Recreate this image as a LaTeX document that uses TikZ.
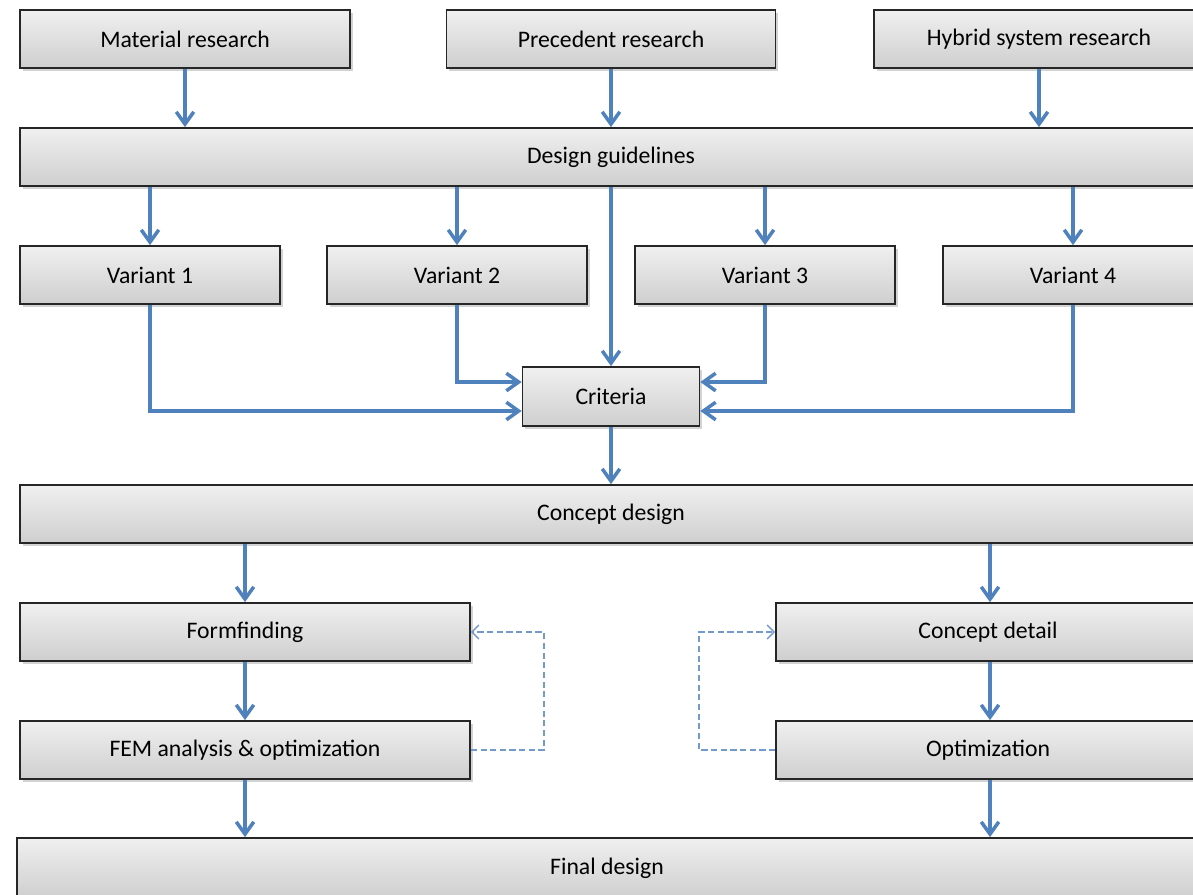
\documentclass[tikz,border=0pt]{standalone}
\usepackage{fontspec}
\setmainfont{Carlito}
\usetikzlibrary{shapes,arrows.meta,positioning,shadows}

\definecolor{flowblue}{HTML}{4F81BD}

\begin{document}
\begin{tikzpicture}[x=0.02cm, y=-0.02cm, >={Straight Barb[length=7pt, width=10pt]}, font=\fontsize{13.5}{16}\selectfont,
    box/.style={rectangle, draw=black!85, line width=1pt, top color=gray!12, bottom color=gray!38,
        drop shadow={opacity=0.35, shadow xshift=1.5pt, shadow yshift=-1.5pt},
        minimum height=1.16cm, inner sep=0pt, align=center},
    flow/.style={->, draw=flowblue, line width=2pt},
    loop/.style={->, draw=flowblue!80, dash pattern=on 3.5pt off 2pt, line width=0.8pt, >={Straight Barb[length=4pt, width=8pt]}}]
        \useasboundingbox (0,0) rectangle (1193,894);
        \clip (0,0) rectangle (1193,894);

        % Nodes
        \node[box, minimum width=6.6cm] (material) at (185,39) {Material research};
        \node[box, minimum width=6.58cm] (precedent) at (611,39) {Precedent research};
        \node[box, minimum width=6.6cm] (hybrid) at (1039,39) {Hybrid system research};

        \node[box, minimum width=23.64cm] (guidelines) at (611,157) {Design guidelines};

        \node[box, minimum width=5.2cm] (var1) at (150,275) {Variant 1};
        \node[box, minimum width=5.2cm] (var2) at (457,275) {Variant 2};
        \node[box, minimum width=5.2cm] (var3) at (765,275) {Variant 3};
        \node[box, minimum width=5.2cm] (var4) at (1073,275) {Variant 4};

        \node[box, minimum width=3.54cm, minimum height=1.18cm] (criteria) at (611,396.5) {Criteria};

        \node[box, minimum width=23.64cm] (concept) at (611,514) {Concept design};

        \node[box, minimum width=9cm] (formfinding) at (245,632) {Formfinding};
        \node[box, minimum width=9cm] (fem) at (245,750) {FEM analysis \& optimization};
        \node[box, minimum width=8.48cm] (detail) at (988,632) {Concept detail};
        \node[box, minimum width=8.48cm] (optim) at (988,750) {Optimization};

        \node[box, minimum width=23.6cm, minimum height=1.2cm] (final) at (607,868) {Final design};

        % Arrows
        % research -> guidelines
        \foreach \src in {material, precedent, hybrid}
            \draw[flow] (\src.south) -- (\src.south |- guidelines.north);

        % guidelines -> variants
        \foreach \dst in {var1, var2, var3, var4}
            \draw[flow] (\dst.north |- guidelines.south) -- (\dst.north);

        % variants -> criteria
        \draw[flow] (guidelines.south) -- (criteria.north);
        \draw[flow] (var1.south) |- ([yshift=-0.29cm]criteria.west);
        \draw[flow] (var2.south) |- ([yshift=0.29cm]criteria.west);
        \draw[flow] (var3.south) |- ([yshift=0.29cm]criteria.east);
        \draw[flow] (var4.south) |- ([yshift=-0.29cm]criteria.east);

        \draw[flow] (criteria.south) -- (concept.north);

        % left branch
        \draw[flow] (formfinding.north |- concept.south) -- (formfinding.north);
        \draw[flow] (formfinding.south) -- (fem.north);
        \draw[flow] (fem.south) -- (fem.south |- final.north);
        \draw[loop] (fem.east) -- ++(73,0) |- (formfinding.east);

        % right branch
        \draw[flow] ([xshift=0.04cm]detail.north |- concept.south) -- ([xshift=0.04cm]detail.north);
        \draw[flow] ([xshift=0.04cm]detail.south) -- ([xshift=0.04cm]optim.north);
        \draw[flow] ([xshift=0.04cm]optim.south) -- ([xshift=0.04cm]optim.south |- final.north);
        \draw[loop] (optim.west) -- ++(-76,0) |- (detail.west);
    \end{tikzpicture}
\end{document}
